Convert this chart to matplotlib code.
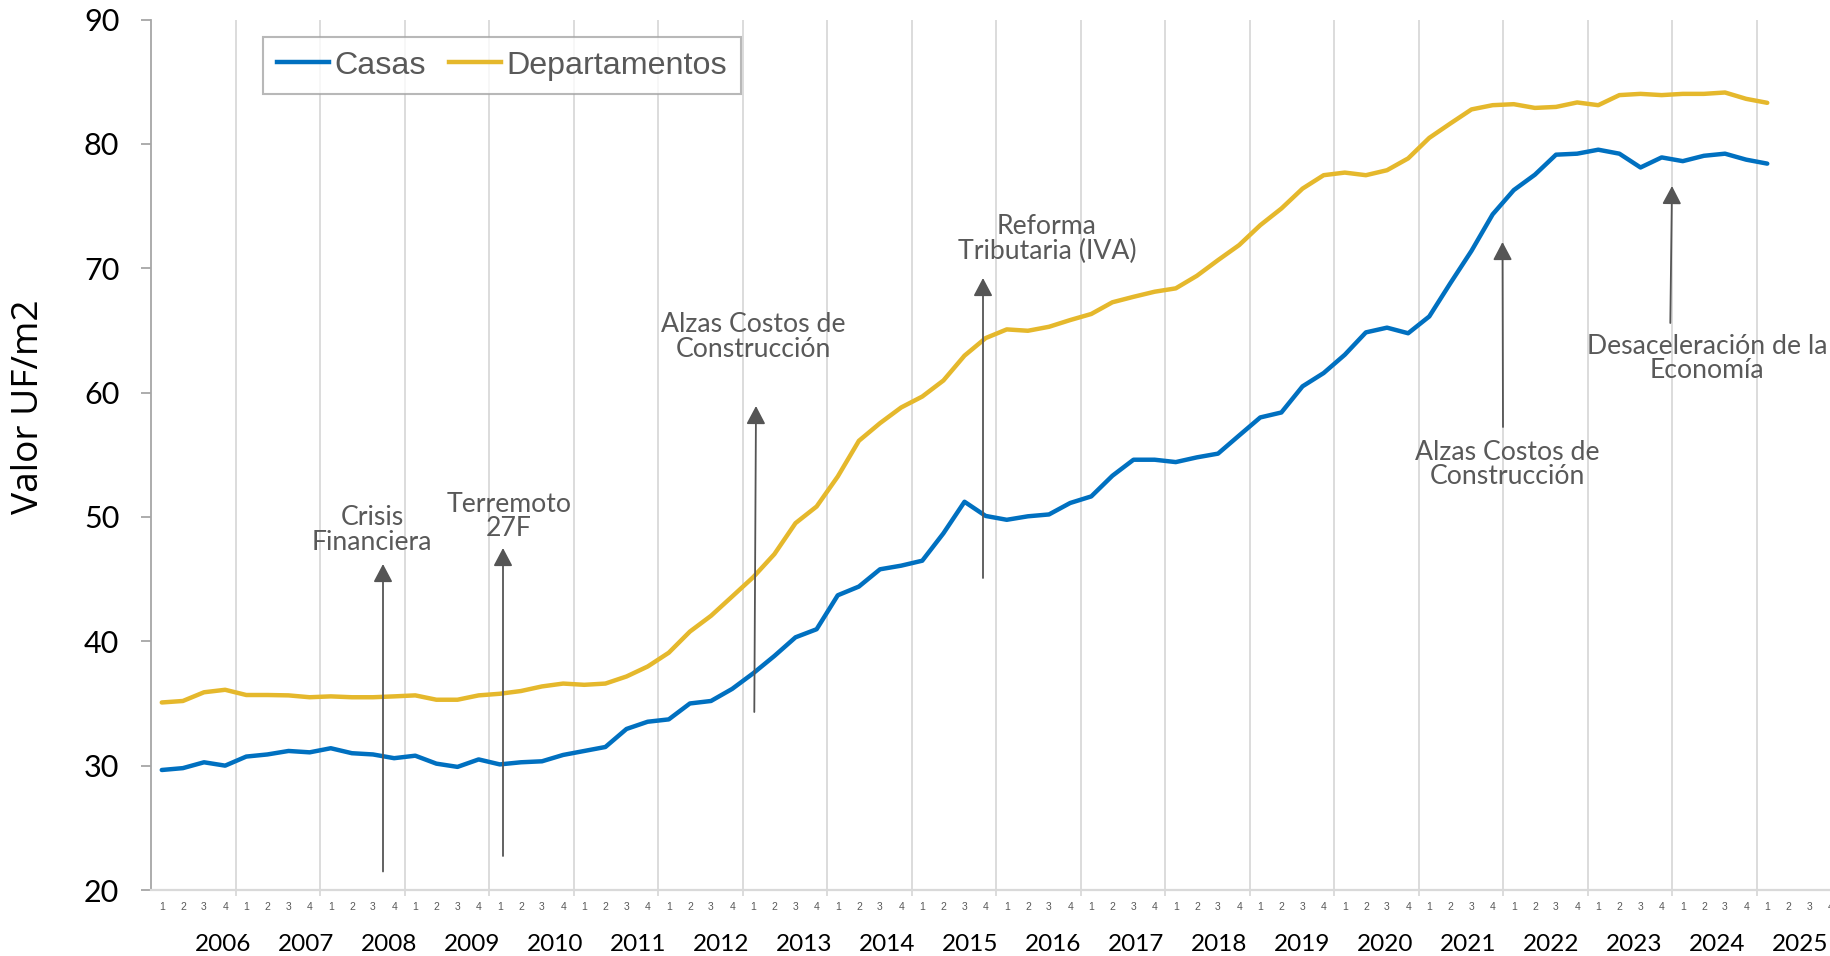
import matplotlib
matplotlib.use('Agg')
import matplotlib.pyplot as plt
from matplotlib.lines import Line2D
import matplotlib.transforms as mtransforms

# ---------------- data ----------------
years = list(range(2006, 2026))
quarter_labels = ['1', '2', '3', '4'] * len(years)

casas = [
    29.65, 29.8, 30.27, 30.0,
    30.73, 30.9, 31.18, 31.07,
    31.4, 31.0, 30.9, 30.6,
    30.8, 30.16, 29.9, 30.5,
    30.1, 30.27, 30.35, 30.86,
    31.18, 31.5, 32.95, 33.53,
    33.72, 35.0, 35.2, 36.17,
    37.43, 38.82, 40.32, 40.97,
    43.7, 44.4, 45.79, 46.08,
    46.48, 48.68, 51.22, 50.08,
    49.77, 50.05, 50.2, 51.12,
    51.65, 53.31, 54.6, 54.6,
    54.41, 54.79, 55.09, 56.55,
    58.0, 58.4, 60.5, 61.57,
    63.04, 64.84, 65.22, 64.77,
    66.12, 68.8, 71.4, 74.33,
    76.28, 77.52, 79.13, 79.21,
    79.53, 79.21, 78.1, 78.91,
    78.61, 79.04, 79.21, 78.73,
    78.41,
]

departamentos = [
    35.08, 35.2, 35.9, 36.1,
    35.68, 35.68, 35.65, 35.5,
    35.57, 35.5, 35.5, 35.57,
    35.65, 35.3, 35.3, 35.65,
    35.78, 36.0, 36.37, 36.6,
    36.5, 36.6, 37.17, 37.97,
    39.08, 40.78, 42.05, 43.6,
    45.16, 47.01, 49.5, 50.84,
    53.25, 56.12, 57.54, 58.8,
    59.68, 60.97, 62.97, 64.38,
    65.08, 64.97, 65.29, 65.83,
    66.32, 67.26, 67.7, 68.11,
    68.38, 69.39, 70.65, 71.86,
    73.46, 74.8, 76.4, 77.48,
    77.69, 77.48, 77.88, 78.83,
    80.48, 81.64, 82.77, 83.11,
    83.19, 82.89, 82.97, 83.33,
    83.11, 83.92, 84.02, 83.92,
    84.02, 84.02, 84.13, 83.62,
    83.3,
]

series_names = ['Casas', 'Departamentos']

annotation_texts = [
    'Crisis\nFinanciera',
    'Terremoto\n27F',
    'Alzas Costos de\nConstrucción',
    'Reforma\nTributaria (IVA)',
    'Alzas Costos de\nConstrucción',
    'Desaceleración de la\nEconomía',
]

# ---------------- style ----------------
BLUE = '#0070C0'
GOLD = '#E5B82C'
GRID = '#D9D9D9'
AXIS = '#A6A6A6'
TXT = '#595959'

W, H = 1831, 956
fig = plt.figure(figsize=(W / 100, H / 100), dpi=100)
left_px, right_px = 151.2, 1841.2
top_px, bottom_px = 19.5, 890.0
ax = fig.add_axes([left_px / W, 1 - bottom_px / H,
                   (right_px - left_px) / W, (bottom_px - top_px) / H])

x = list(range(len(casas)))
ax.plot(x, casas, color=BLUE, lw=3.2, solid_joinstyle='round', solid_capstyle='round', zorder=3)
ax.plot(x, departamentos, color=GOLD, lw=3.2, solid_joinstyle='round', solid_capstyle='round', zorder=3)

ax.set_xlim(-0.5, len(quarter_labels) - 0.5)
ax.set_ylim(20, 90)

# x axis: quarter labels + year separators
ax.set_xticks(range(len(quarter_labels)))
ax.set_xticklabels(quarter_labels, fontsize=7.5, color=TXT, family='Liberation Sans')
ax.tick_params(axis='x', which='major', length=0, pad=9)
ax.set_xticks([3.5 + 4 * k for k in range(len(years))], minor=True)
ax.tick_params(axis='x', which='minor', length=4, color=GRID, width=1.3)
ax.grid(axis='x', which='minor', color=GRID, lw=1.3, zorder=0)
ax.grid(axis='x', which='major', visible=False)

# y axis
ax.set_yticks(range(20, 91, 10))
ax.tick_params(axis='y', length=7, color=AXIS, width=1.3, pad=16, labelsize=22, labelcolor='black')
for lab in ax.get_yticklabels():
    lab.set_family('Lato')

for s in ['top', 'right']:
    ax.spines[s].set_visible(False)
ax.spines['left'].set_color(AXIS)
ax.spines['left'].set_linewidth(1.3)
ax.spines['bottom'].set_color(GRID)
ax.spines['bottom'].set_linewidth(1.6)

# year labels
trans = mtransforms.blended_transform_factory(ax.transData, fig.transFigure)
for k, yr in enumerate(years):
    ax.text(2.88 + 3.93 * k, 0.0125, str(yr), transform=trans, ha='center', va='center',
            fontsize=17.5, family='Lato', color='black', clip_on=False)

# y label
fig.text(29 / W, 1 - 407 / H, 'Valor UF/m2', rotation=90, ha='center', va='center',
         fontsize=26.7, family='Open Sans', color='black')

# legend
handles = [Line2D([], [], color=BLUE, lw=3.2), Line2D([], [], color=GOLD, lw=3.2)]
leg = fig.legend(handles, series_names, loc='upper left',
                 bbox_to_anchor=(263 / W, 1 - 37 / H), bbox_transform=fig.transFigure,
                 ncol=2, frameon=True, fancybox=False, borderaxespad=0,
                 prop={'family': 'Liberation Sans', 'size': 23.2},
                 handlelength=1.62, handletextpad=0.18, columnspacing=0.7,
                 borderpad=0.42, labelcolor=TXT)
leg.get_frame().set_edgecolor(AXIS)
leg.get_frame().set_linewidth(1.5)

# annotations (positions in pixel coords of the figure, converted to data)
def px2data(px, py):
    xd = (px - left_px) / 21.125 - 0.5
    yd = 20 + (bottom_px - py) / ((bottom_px - top_px) / 70)
    return xd, yd

ann_layout = [
    # text center (px), arrow tail (px), arrow tip (px)
    ((372, 530), (383, 871.5), (383, 564)),
    ((509, 516.5), (503, 856), (503, 548)),
    ((753, 337), (754.3, 712), (756, 406)),
    ((1047, 239), (983, 578), (983, 278)),
    ((1507, 464.5), (1503, 427), (1502.5, 242)),
    ((1707, 358.5), (1670.3, 323), (1672, 186)),
]
for txt, (tc, tail, tip) in zip(annotation_texts, ann_layout):
    tx, ty = px2data(*tc)
    ax.text(tx, ty, txt, ha='center', va='center', multialignment='center',
            fontsize=19.2, family='Lato', color=TXT, linespacing=0.98, zorder=4)
    ax.annotate('', xy=px2data(*tip), xytext=px2data(*tail),
                arrowprops=dict(arrowstyle='-|>,head_length=0.55,head_width=0.29',
                                mutation_scale=20, color='#555555', lw=1.3,
                                shrinkA=0, shrinkB=0), zorder=4)

fig.savefig('out.png', dpi=100)
